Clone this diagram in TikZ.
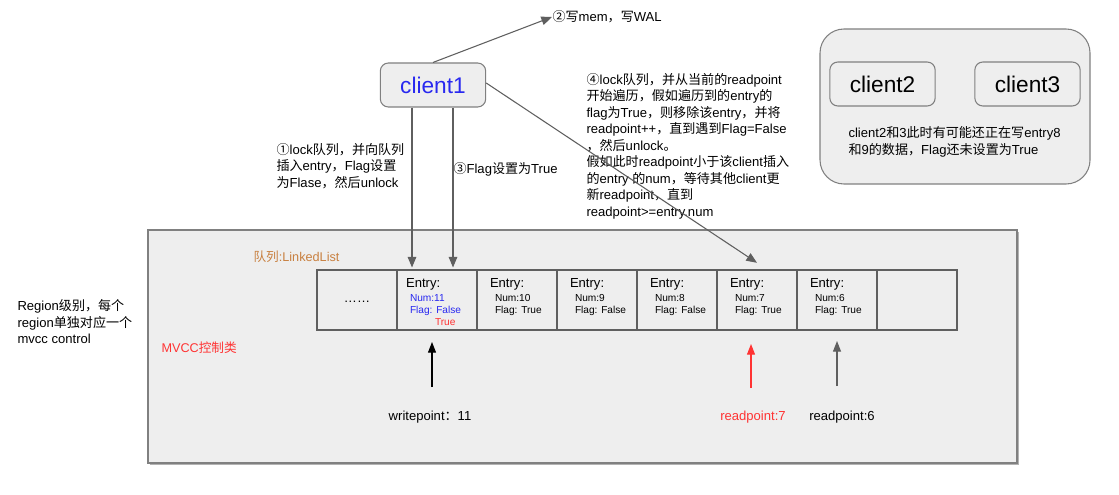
\documentclass[tikz,border=0pt]{standalone}
\usepackage{fontspec}
\setmainfont{Liberation Sans}
\newfontfamily\cjk{Noto Sans CJK SC}
% Chinese characters switch to the CJK font on their own
\XeTeXinterchartokenstate=1
\newXeTeXintercharclass\zhclass
\newcommand\zhrange[2]{\count255=#1 \loop\XeTeXcharclass\count255=\zhclass\ifnum\count255<#2 \advance\count255 by 1 \repeat}
\zhrange{"2460}{"24FF}
\zhrange{"3000}{"303F}
\zhrange{"4E00}{"9FFF}
\zhrange{"FF00}{"FFEF}
\XeTeXinterchartoks 0 \zhclass = {\begingroup\cjk}
\XeTeXinterchartoks 4095 \zhclass = {\begingroup\cjk}
\XeTeXinterchartoks \zhclass 0 = {\endgroup}
\XeTeXinterchartoks \zhclass 4095 = {\endgroup}
\usetikzlibrary{arrows.meta,shadows}
\definecolor{boxgray}{RGB}{238,238,238}
\definecolor{linegray}{RGB}{95,95,95}
\definecolor{framegray}{RGB}{128,128,128}
\definecolor{clientblue}{RGB}{40,40,240}
\definecolor{markred}{RGB}{255,51,51}
\definecolor{listorange}{RGB}{200,128,64}

\begin{document}
\begin{tikzpicture}[x=0.75pt, y=-0.75pt, line width=0.8pt,
        note/.style = {inner sep=0pt, align=left, anchor=west, font=\fontsize{9.8}{12.4}\selectfont},
        clientbox/.style = {draw=framegray, fill=boxgray, rounded corners=6pt, minimum width=79pt, minimum height=33pt, font=\fontsize{17}{20}\selectfont},
        cell/.style = {draw=linegray, minimum width=60pt, minimum height=45pt, inner sep=0pt},
        entrytitle/.style = {inner sep=0pt, anchor=west, font=\fontsize{9.8}{11}\selectfont},
        entryline/.style = {inner sep=0pt, anchor=west, font=\fontsize{7.6}{8}\selectfont},
        arr/.style = {draw=linegray, -{Triangle[length=8pt,width=6.5pt]}},
        uparr/.style = {-{Triangle[length=8pt,width=6pt]}}]
    \useasboundingbox (0,0) rectangle (1119,495);

    % MVCC control class
    \node[draw=framegray, fill=boxgray, drop shadow={shadow xshift=1.5pt, shadow yshift=-1.5pt, opacity=0.6},
          minimum width=651.75pt, minimum height=174.75pt, inner sep=0pt] (mvcc) at (582.5,346.5) {};
    \node[note, text=listorange, font=\fontsize{9.5}{11}\selectfont] (listname) at (253,257) {队列:LinkedList};
    \node[note, text=markred, font=\fontsize{9.5}{11}\selectfont] (mvccname) at (161,348) {MVCC控制类};
    \node[note] (region) at (17,322) {Region级别，每个\\region单独对应一个\\mvcc control};

    % queue cells
    \foreach \n [count=\i from 0] in {dots,11,10,9,8,7,6,empty}
        \node[cell] (c\n) at ({357+80*\i},300) {};
    \node[font=\fontsize{9.8}{11}\selectfont] (ellipsis) at ([yshift=-1pt]cdots.center) {……};

    \node[entrytitle] (t11) at ([shift={(8,15)}]cdots.north east) {Entry:};
    \node[entryline, text=clientblue] (n11) at ([shift={(13,29)}]c11.north west) {Num:11};
    \node[entryline, text=clientblue] (f11) at ([shift={(13,41)}]c11.north west) {Flag: False};
    \node[entryline, text=markred] (r11) at ([shift={(38,53)}]c11.north west) {True};
    \foreach \n/\f in {10/True,9/False,8/False,7/True,6/True}{
        \node[entrytitle] (t\n) at ([shift={(13,15)}]c\n.north west) {Entry:};
        \node[entryline] (n\n) at ([shift={(18,29)}]c\n.north west) {Num:\n};
        \node[entryline] (f\n) at ([shift={(18,41)}]c\n.north west) {Flag: \f};
    }

    % pointers
    \node[note, anchor=center] (wp) at (430,417) {writepoint：11};
    \node[note, anchor=center, text=markred] (rp7) at (753,417) {readpoint:7};
    \node[note, anchor=center] (rp6) at (842,417) {readpoint:6};
    \coordinate (wpbase) at (432,387);
    \coordinate (wptip) at (432,342);
    \coordinate (rp7base) at (751,388);
    \coordinate (rp7tip) at (751,344);
    \coordinate (rp6base) at (837,386);
    \coordinate (rp6tip) at (837,341);
    \draw[uparr, draw=black] (wpbase) -- (wptip);
    \draw[uparr, draw=markred] (rp7base) -- (rp7tip);
    \draw[uparr, draw=linegray] (rp6base) -- (rp6tip);

    % client1 and its steps
    \node[clientbox, text=clientblue] (client1) at (433,85) {client1};
    \node[note] (walnote) at (552,17) {②写mem，写WAL};
    \node[note] (step1) at (276,166) {①lock队列，并向队列\\插入entry，Flag设置\\为Flase，然后unlock};
    \node[note] (step3) at (453,169) {③Flag设置为True};
    \node[note] (step4) at (586,146) {④lock队列，并从当前的readpoint\\开始遍历，假如遍历到的entry的\\flag为True，则移除该entry，并将\\readpoint++，直到遇到Flag=False\\，然后unlock。\\假如此时readpoint小于该client插入\\的entry 的num，等待其他client更\\新readpoint，直到\\readpoint>=entry.num};
    \coordinate (lane1) at (412,0);
    \coordinate (lane3) at (453,0);
    \draw[arr] (client1.north) -- (walnote.west);
    \draw[arr] (client1.south -| lane1) -- ([yshift=1.5pt]c11.north -| lane1);
    \draw[arr] (client1.south -| lane3) -- ([yshift=1.5pt]c11.north -| lane3);
    \draw[arr] ([yshift=1.5pt]client1.east) -- ([yshift=5pt]c7.north);

    % other clients
    \node[draw=framegray, fill=boxgray, rounded corners=18pt, minimum width=202.5pt, minimum height=116.25pt] (others) at (955,106.5) {};
    \node[clientbox] (client2) at (882.5,84) {client2};
    \node[clientbox] (client3) at (1027.5,84) {client3};
    \node[note] (othernote) at (848,142) {client2和3此时有可能还正在写entry8\\和9的数据，Flag还未设置为True};
\end{tikzpicture}
\end{document}
